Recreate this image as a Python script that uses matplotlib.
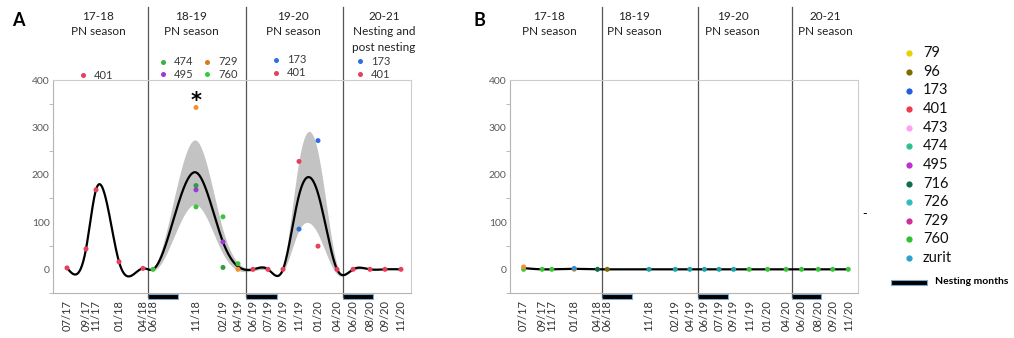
import numpy as np
import pandas as pd
import matplotlib
matplotlib.use("Agg")
import matplotlib.pyplot as plt
from matplotlib.patches import Rectangle
from matplotlib.lines import Line2D

plt.rcParams['font.family'] = ['Lato', 'DejaVu Sans']

# sampling dates and their place along the axis (axis runs 0..358)
dates = ['07/17', '09/17', '11/17', '01/18', '04/18', '06/18', '11/18', '02/19', '04/19',
         '06/19', '07/19', '09/19', '11/19', '01/20', '04/20', '06/20', '08/20', '09/20', '11/20']
date_pos = [14, 33, 43, 66, 90, 100, 143, 170, 185, 200, 215, 230, 246, 265, 284, 300, 317, 332, 348]
season_bounds = [95, 193, 290]
nesting = [(95, 125), (193, 224), (290, 320)]

# panel A: (date, animal, value)
a_date = ['07/17', '09/17', '11/17', '01/18', '04/18', '06/18',
          '11/18', '11/18', '11/18', '11/18', '02/19', '02/19', '02/19', '04/19', '04/19',
          '06/19', '07/19', '09/19', '11/19', '11/19', '01/20', '01/20', '04/20',
          '06/20', '08/20', '09/20', '11/20']
a_animal = ['401', '401', '401', '401', '401', '760',
            '729', '474', '495', '760', '760', '495', '474', '760', '729',
            '401', '401', '401', '401', '173', '173', '401', '401',
            '401', '401', '401', '401']
a_value = [3, 43, 168, 16, 2, 0,
           342, 177, 168, 132, 111, 58, 4, 12, 0,
           0, 0, 0, 228, 85, 272, 49, 0,
           0, 0, 0, 0]
# half width of the grey band at each date
a_band = [0, 0, 0, 0, 0, 3, 68, 25, 8, 3, 3, 5, 74, 86, 10, 3, 0, 0, 0]

# panel B
b_date = ['07/17', '07/17', '09/17', '11/17', '01/18', '01/18', '04/18', '06/18', '11/18', '02/19',
          '04/19', '06/19', '07/19', '09/19', '11/19', '01/20', '04/20', '06/20', '08/20', '09/20', '11/20']
b_animal = ['760', '729', '760', '760', '729', 'zurit', '716', '96', '726', '726',
            '726', '726', '726', '726', '760', '760', '760', '760', '760', '760', '760']
b_value = [0, 5, 0, 0, 0, 2, 0, 0, 0, 0,
           0, 0, 0, 0, 0, 0, 0, 0, 0, 0, 0]

point_colors = {'401': '#e8405a', '173': '#2f6fe0', '474': '#2e9e3e', '729': '#f59032',
                '495': '#9a3ad0', '760': '#3cc43c', 'zurit': '#3090d0', '716': '#106848',
                '96': '#7a6a10', '726': '#23a3a8'}

legend_ids = ['79', '96', '173', '401', '473', '474', '495', '716', '726', '729', '760', 'zurit']
legend_colors = ['#e6d200', '#7f6a00', '#1f5fe0', '#ee3a4a', '#ffa0f5', '#2fc090',
                 '#c030d0', '#0f6e50', '#2fbcbc', '#d0309a', '#30c030', '#30a0d0']

a_heads = [(45, ['17-18', 'PN season']), (138.5, ['18-19', 'PN season']),
           (240, ['19-20', 'PN season']), (331, ['20-21', 'Nesting and', 'post nesting'])]
b_heads = [(40, ['17-18', 'PN season']), (128, ['18-19', 'PN season']),
           (229, ['19-20', 'PN season']), (324, ['20-21', 'PN season'])]


def natural_spline(x, y, xs):
    x = np.asarray(x, float); y = np.asarray(y, float)
    n = len(x)
    h = np.diff(x)
    A = np.zeros((n, n)); r = np.zeros(n)
    A[0, 0] = A[-1, -1] = 1
    for i in range(1, n - 1):
        A[i, i - 1] = h[i - 1]; A[i, i] = 2 * (h[i - 1] + h[i]); A[i, i + 1] = h[i]
        r[i] = 3 * ((y[i + 1] - y[i]) / h[i] - (y[i] - y[i - 1]) / h[i - 1])
    c = np.linalg.solve(A, r)
    b = (y[1:] - y[:-1]) / h - h * (2 * c[:-1] + c[1:]) / 3
    d = (c[1:] - c[:-1]) / (3 * h)
    idx = np.clip(np.searchsorted(x, xs) - 1, 0, n - 2)
    dx = xs - x[idx]
    return y[idx] + b[idx] * dx + c[idx] * dx ** 2 + d[idx] * dx ** 3


def setup_axes(ax):
    ax.set_xlim(0, 358)
    ax.set_ylim(-48, 400)
    ax.set_yticks([0, 100, 200, 300, 400])
    ax.set_yticks(np.arange(-50, 400, 50), minor=True)
    ax.tick_params(axis='y', which='major', length=0, pad=2.5, labelsize=7.5, labelcolor='#595959')
    ax.tick_params(axis='y', which='minor', length=3, color='#b0b0b0')
    ax.set_xticks(date_pos, dates, rotation=90)
    ax.tick_params(axis='x', length=0, pad=5, labelsize=8, labelcolor='#333333')
    for s in ax.spines.values():
        s.set_color('#cccccc')
    ax.spines['left'].set_color('#b4b4b4')
    ax.spines['bottom'].set_color('#b4b4b4')
    tr = ax.get_xaxis_transform()
    for b in season_bounds:
        ax.plot([b, b], [-0.02, 1.343], transform=tr, clip_on=False, color='#555555', lw=0.9)
    for s0, s1 in nesting:
        ax.add_patch(Rectangle((s0, -0.026), s1 - s0, 0.022, transform=tr, clip_on=False,
                               fc='black', ec='#7fa7c9', lw=0.8))


def draw_panel(ax, d_dates, d_animals, d_values, band=None):
    df = pd.DataFrame({'date': d_dates, 'animal': d_animals, 'value': d_values})
    means = df.groupby('date')['value'].mean().reindex(dates).values
    xs = np.linspace(date_pos[0], date_pos[-1], 800)
    curve = natural_spline(date_pos, means, xs)
    if band is not None:
        hw = np.abs(natural_spline(date_pos, band, xs))
        ax.fill_between(xs, curve - hw, curve + hw, color='#c3c3c3', lw=0, zorder=1)
    ax.plot(xs, curve, color='black', lw=1.6, zorder=2)
    pos = dict(zip(dates, date_pos))
    ax.scatter([pos[d] for d in df['date']], df['value'],
               c=[point_colors[a] for a in df['animal']], s=13, lw=0, zorder=3, clip_on=False)


fig = plt.figure(figsize=(10.14, 3.38), dpi=100)
axA = fig.add_axes([53 / 1014, 1 - 293 / 338, 358 / 1014, 213 / 338])
axB = fig.add_axes([510 / 1014, 1 - 293 / 338, 348 / 1014, 213 / 338])

for ax, heads in [(axA, a_heads), (axB, b_heads)]:
    setup_axes(ax)
    tr = ax.get_xaxis_transform()
    for x, lines in heads:
        for i, line in enumerate(lines):
            ax.text(x, 1.300 - i * 0.074, line, transform=tr, ha='center', va='center',
                    fontsize=8.5, color='#222222')

draw_panel(axA, a_date, a_animal, a_value, band=a_band)
draw_panel(axB, b_date, b_animal, b_value)

# small legends above panel A
mini = [(30, 1.023, '401', '#e8405a'),
        (110, 1.085, '474', '#3cb043'), (154, 1.085, '729', '#d87a20'),
        (110, 1.028, '495', '#9a3ad0'), (154, 1.028, '760', '#2ecc40'),
        (223, 1.094, '173', '#2f6fe0'), (223, 1.033, '401', '#e8405a'),
        (307, 1.089, '173', '#2f6fe0'), (307, 1.028, '401', '#e8405a')]
trA = axA.get_xaxis_transform()
for x, y, lab, col in mini:
    axA.plot([x], [y], 'o', ms=3.6, color=col, mec='none', transform=trA, clip_on=False)
    axA.text(x + 11, y, lab, transform=trA, va='center', fontsize=8, color='#3a3a3a')

axA.text(143, 356, '*', ha='center', va='center', fontsize=15, fontweight='bold',
         family='DejaVu Sans')

fig.text(18 / 1014, 1 - 20 / 338, 'A', fontsize=13, fontweight='bold', ha='center', va='center')
fig.text(479 / 1014, 1 - 20 / 338, 'B', fontsize=13, fontweight='bold', ha='center', va='center')

# legend of panel B
for i, (lab, col) in enumerate(zip(legend_ids, legend_colors)):
    y = 1 - (53.3 + i * 18.6) / 338
    fig.add_artist(Line2D([909 / 1014], [y], marker='o', ms=4.5, color=col, mec='none',
                          transform=fig.transFigure))
    fig.text(923 / 1014, y, lab, va='center', fontsize=10.5, color='#111111')
fig.add_artist(Rectangle((891 / 1014, 1 - 285 / 338), 36 / 1014, 5 / 338, transform=fig.transFigure,
                         fc='black', ec='#7fa7c9', lw=0.8))
fig.text(935 / 1014, 1 - 282 / 338, 'Nesting months', va='center', fontsize=7.5, fontweight='bold')
fig.text(865 / 1014, 1 - 214 / 338, '-', va='center', ha='center', fontsize=9)

fig.savefig('out.png', dpi=100)
